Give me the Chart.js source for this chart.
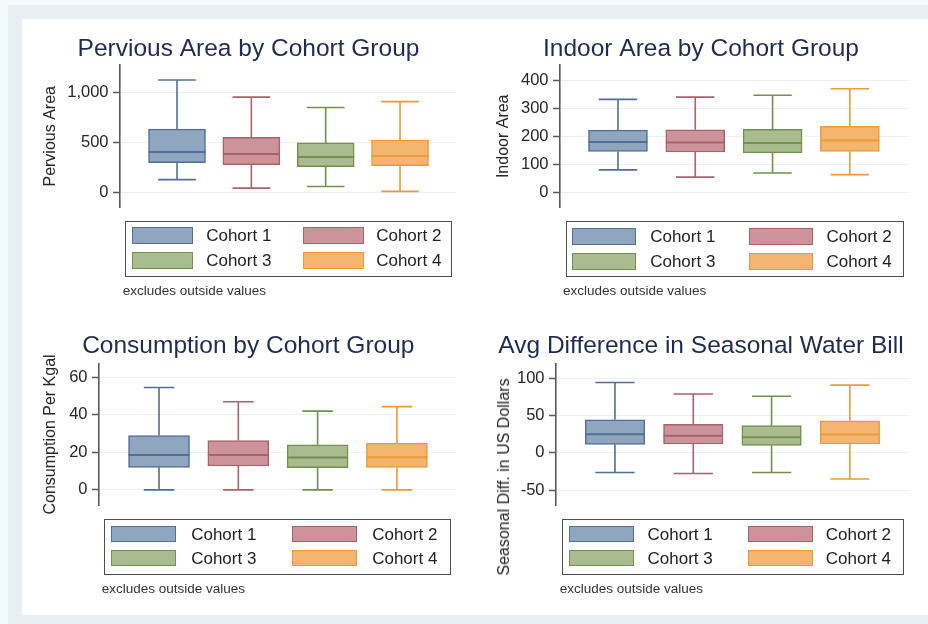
<!DOCTYPE html>
<html>
<head>
<meta charset="utf-8">
<script src="https://cdn.jsdelivr.net/npm/chart.js@4.4.1/dist/chart.umd.min.js"></script>
<style>
  html, body { margin: 0; padding: 0; background: #fff; }
  #page { position: relative; width: 928px; height: 624px; overflow: hidden; background: #f6f9fa;
          font-family: "Liberation Sans", Arial, sans-serif; }
  #frame { position: absolute; left: 8px; top: 5px; right: 0; bottom: 0; background: #e7eff3; }
  #sheet { position: absolute; left: 22px; top: 19px; width: 906px; height: 596px; background: #fff; }
  canvas { position: absolute; }
  .legend { position: absolute; border: 1.5px solid #4d4d4d; background: #fff; box-sizing: border-box; }
  .sw { position: absolute; box-sizing: border-box; border: 1.5px solid; }
  .lt { position: absolute; font-size: 17px; color: #222; line-height: 17px; white-space: nowrap; }
  .note { position: absolute; font-size: 13.5px; color: #333; white-space: nowrap; line-height: 14px; }
  .ytitle { position: absolute; font-size: 16px; color: #262626; white-space: nowrap; line-height: 16px;
            transform: translate(-50%, -50%) rotate(-90deg); }
</style>
</head>
<body>
<div id="page">
  <div id="frame"></div>
  <div id="sheet"></div>
</div>
<script>
// Cohort groups shown in every panel
const cohorts = ['Cohort 1', 'Cohort 2', 'Cohort 3', 'Cohort 4'];

// Pervious area: whisker low, Q1, median, Q3, whisker high
const perviousLow    = [127, 42, 59, 10];
const perviousQ1     = [297, 277, 255, 265];
const perviousMedian = [402, 382, 353, 363];
const perviousQ3     = [630, 549, 493, 522];
const perviousHigh   = [1120, 950, 846, 905];
const perviousTicks  = [0, 500, 1000];

// Indoor area
const indoorLow    = [80, 54, 69, 63];
const indoorQ1     = [146, 144, 141, 146];
const indoorMedian = [180, 178, 176, 185];
const indoorQ3     = [222, 223, 225, 236];
const indoorHigh   = [332, 340, 347, 370];
const indoorTicks  = [0, 100, 200, 300, 400];

// Consumption per Kgal
const consumptionLow    = [0, 0, 0, 0];
const consumptionQ1     = [12, 12.7, 11.8, 12];
const consumptionMedian = [18.6, 18.6, 17.2, 17.4];
const consumptionQ3     = [29, 26.3, 24, 24.9];
const consumptionHigh   = [54.6, 47, 42, 44.4];
const consumptionTicks  = [0, 20, 40, 60];

// Seasonal difference in water bill (US dollars)
const seasonalLow    = [-26.2, -27.5, -26.2, -34.9];
const seasonalQ1     = [11.4, 11.8, 10.1, 11.8];
const seasonalMedian = [25, 22.8, 21, 24.5];
const seasonalQ3     = [44.2, 38, 36.3, 42.8];
const seasonalHigh   = [94, 78.7, 75.7, 90.5];
const seasonalTicks  = [-50, 0, 50, 100];

const fills   = ['#8ea6c0', '#cc949a', '#a8bc8f', '#f3b56f'];
const borders = ['#536f92', '#a9626a', '#73904f', '#eb9b37'];

const FONT = '"Liberation Sans", Arial, sans-serif';
Chart.defaults.font.family = FONT;

// Whiskers are drawn behind the boxes, medians on top of them
const boxWhiskers = {
  id: 'boxWhiskers',
  beforeDatasetsDraw(chart) {
    const ds = chart.data.datasets[0];
    const y = chart.scales.y;
    const ctx = chart.ctx;
    ctx.save();
    ctx.lineWidth = 1.6;
    chart.getDatasetMeta(0).data.forEach((bar, i) => {
      const { x, width } = bar.getProps(['x', 'width'], true);
      const cap = width * ds.capRatio / 2;
      const yHigh = y.getPixelForValue(ds.whiskerHigh[i]);
      const yLow = y.getPixelForValue(ds.whiskerLow[i]);
      const yQ3 = y.getPixelForValue(ds.data[i].y[1]);
      const yQ1 = y.getPixelForValue(ds.data[i].y[0]);
      ctx.strokeStyle = ds.borderColor[i];
      ctx.beginPath();
      ctx.moveTo(x, yQ3); ctx.lineTo(x, yHigh);
      ctx.moveTo(x - cap, yHigh); ctx.lineTo(x + cap, yHigh);
      ctx.moveTo(x, yQ1); ctx.lineTo(x, yLow);
      ctx.moveTo(x - cap, yLow); ctx.lineTo(x + cap, yLow);
      ctx.stroke();
    });
    ctx.restore();
  },
  afterDatasetsDraw(chart) {
    const ds = chart.data.datasets[0];
    const y = chart.scales.y;
    const ctx = chart.ctx;
    ctx.save();
    ctx.lineWidth = 2;
    chart.getDatasetMeta(0).data.forEach((bar, i) => {
      const { x, width } = bar.getProps(['x', 'width'], true);
      const yMed = y.getPixelForValue(ds.median[i]);
      ctx.strokeStyle = ds.borderColor[i];
      ctx.beginPath();
      ctx.moveTo(x - width / 2, yMed); ctx.lineTo(x + width / 2, yMed);
      ctx.stroke();
    });
    ctx.restore();
  }
};

// yTitleAt: the long dollar-axis title sits lower, beside the legend, so it is placed by hand
const panels = [
  { title: 'Pervious Area by Cohort Group', yTitle: 'Pervious Area',
    low: perviousLow, q1: perviousQ1, median: perviousMedian, q3: perviousQ3, high: perviousHigh, ticks: perviousTicks,
    box: { left: 22, top: 19, w: 442, h: 203 }, pad: { left: 19, right: 8, bottom: 12 },
    titlePad: { top: 15.8, bottom: 0.8 }, axisW: 79, axisTitlePad: 0,
    yMin: -152, yMax: 1270, xMin: 0.233, xMax: 4.753, barW: 57, cap: 0.66,
    legend: { left: 125, top: 220.7, w: 327, h: 56, sw: [7.7, 178], swW: 61, txt: [81.7, 251.7], rows: [7.3, 32.3], rowH: 17 },
    note: { left: 122.7, top: 284 } },
  { title: 'Indoor Area by Cohort Group', yTitle: 'Indoor Area',
    low: indoorLow, q1: indoorQ1, median: indoorMedian, q3: indoorQ3, high: indoorHigh, ticks: indoorTicks,
    box: { left: 464, top: 19, w: 464, h: 203 }, pad: { left: 29, right: 19, bottom: 12 },
    titlePad: { top: 15.8, bottom: 0.8 }, axisW: 67, axisTitlePad: 1.4,
    yMin: -55, yMax: 455, xMin: 0.25, xMax: 4.765, barW: 59, cap: 0.65,
    legend: { left: 565.7, top: 221, w: 338, h: 56, sw: [7.3, 184.3], swW: 64, txt: [85, 261.3], rows: [7.3, 32], rowH: 17 },
    note: { left: 563, top: 284 } },
  { title: 'Consumption by Cohort Group', yTitle: 'Consumption Per Kgal',
    low: consumptionLow, q1: consumptionQ1, median: consumptionMedian, q3: consumptionQ3, high: consumptionHigh, ticks: consumptionTicks,
    box: { left: 22, top: 310, w: 442, h: 210 }, pad: { left: 18.6, right: 8, bottom: 11.7 },
    titlePad: { top: 21.1, bottom: 2.8 }, axisW: 58.4, axisTitlePad: 0,
    yMin: -8.4, yMax: 67.5, xMin: 0.243, xMax: 4.745, barW: 61, cap: 0.5,
    legend: { left: 104.3, top: 519.3, w: 347, h: 56, sw: [7.7, 188.7], swW: 65, txt: [87.4, 268.4], rows: [7.4, 31.7], rowH: 16 },
    note: { left: 101.7, top: 582 } },
  { title: 'Avg Difference in Seasonal Water Bill', yTitle: 'Seasonal Diff. in US Dollars',
    yTitleAt: { x: 504, y: 477 },
    low: seasonalLow, q1: seasonalQ1, median: seasonalMedian, q3: seasonalQ3, high: seasonalHigh, ticks: seasonalTicks,
    box: { left: 464, top: 310, w: 464, h: 210 }, pad: { left: 29, right: 19, bottom: 11.7 },
    titlePad: { top: 21.1, bottom: 2.8 }, axisW: 63, axisTitlePad: 0.9,
    yMin: -70.5, yMax: 119.7, xMin: 0.247, xMax: 4.755, barW: 59.5, cap: 0.66,
    legend: { left: 561.7, top: 519.3, w: 342, h: 56, sw: [8, 186.6], swW: 65, txt: [86.3, 264.6], rows: [7.4, 31.7], rowH: 16 },
    note: { left: 559.7, top: 582 } }
];

const page = document.getElementById('page');

panels.forEach(p => {
  const canvas = document.createElement('canvas');
  canvas.width = p.box.w; canvas.height = p.box.h;
  canvas.style.left = p.box.left + 'px'; canvas.style.top = p.box.top + 'px';
  canvas.style.width = p.box.w + 'px'; canvas.style.height = p.box.h + 'px';
  page.appendChild(canvas);

  new Chart(canvas, {
    type: 'bar',
    data: {
      datasets: [{
        data: cohorts.map((c, i) => ({ x: i + 1, y: [p.q1[i], p.q3[i]] })),
        whiskerLow: p.low, whiskerHigh: p.high, median: p.median, capRatio: p.cap,
        backgroundColor: fills, borderColor: borders, borderWidth: 1.5, borderSkipped: false,
        barThickness: p.barW
      }]
    },
    options: {
      responsive: false, animation: false, devicePixelRatio: 1,
      layout: { padding: { left: p.pad.left, right: p.pad.right, top: 0, bottom: p.pad.bottom } },
      plugins: {
        legend: { display: false }, tooltip: { enabled: false },
        title: { display: true, text: p.title, color: '#1f2c50',
                 font: { size: 24.5, weight: 'normal', family: FONT, lineHeight: 1.2 },
                 padding: p.titlePad }
      },
      scales: {
        x: { type: 'linear', display: false, min: p.xMin, max: p.xMax, offset: false },
        y: {
          min: p.yMin, max: p.yMax,
          afterBuildTicks: s => { s.ticks = p.ticks.map(v => ({ value: v })); },
          afterFit: s => { s.width = p.axisW; },
          ticks: { color: '#262626', font: { size: 16.5 }, padding: 4.5,
                   callback: v => v.toLocaleString('en-US') },
          grid: { color: '#edf0f2', lineWidth: 1, drawTicks: true, tickLength: 7,
                  tickColor: '#5a5a5a', tickWidth: 1.5 },
          border: { display: true, color: '#5a5a5a', width: 1.6 },
          title: { display: !p.yTitleAt, text: p.yTitle, color: '#262626',
                   font: { size: 16, lineHeight: 1.2 }, padding: { top: p.axisTitlePad, bottom: 0 } }
        }
      }
    },
    plugins: [boxWhiskers]
  });

  if (p.yTitleAt) {
    const yt = document.createElement('div');
    yt.className = 'ytitle';
    yt.textContent = p.yTitle;
    yt.style.left = p.yTitleAt.x + 'px';
    yt.style.top = p.yTitleAt.y + 'px';
    page.appendChild(yt);
  }

  // Legend box: two columns of swatches with cohort names
  const lg = document.createElement('div');
  lg.className = 'legend';
  Object.assign(lg.style, { left: p.legend.left + 'px', top: p.legend.top + 'px',
                            width: p.legend.w + 'px', height: p.legend.h + 'px' });
  cohorts.forEach((name, i) => {
    const col = i % 2, row = Math.floor(i / 2);
    const sw = document.createElement('div');
    sw.className = 'sw';
    Object.assign(sw.style, { left: (p.legend.sw[col] - 1.5) + 'px', top: (p.legend.rows[row] - 1.5) + 'px',
                              width: p.legend.swW + 'px', height: p.legend.rowH + 'px',
                              background: fills[i], borderColor: borders[i] });
    lg.appendChild(sw);
    const t = document.createElement('div');
    t.className = 'lt';
    t.textContent = name;
    Object.assign(t.style, { left: (p.legend.txt[col] - 1.5) + 'px',
                             top: (p.legend.rows[row] - 1.5 + (p.legend.rowH - 17) / 2) + 'px' });
    lg.appendChild(t);
  });
  page.appendChild(lg);

  const note = document.createElement('div');
  note.className = 'note';
  note.textContent = 'excludes outside values';
  note.style.left = p.note.left + 'px';
  note.style.top = p.note.top + 'px';
  page.appendChild(note);
});
</script>
</body>
</html>
